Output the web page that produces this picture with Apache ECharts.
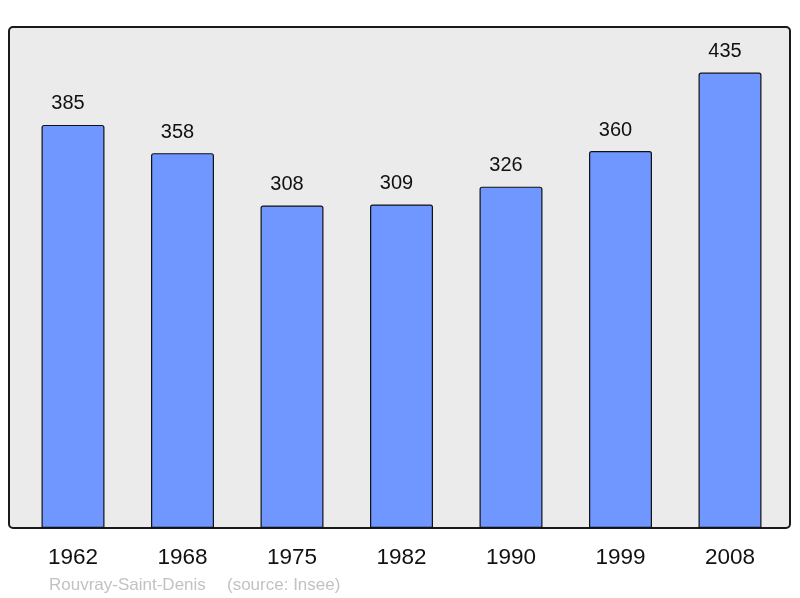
<!DOCTYPE html>
<html><head><meta charset="utf-8">
<script src="https://cdn.jsdelivr.net/npm/echarts@6/dist/echarts.min.js"></script>
<style>html,body{margin:0;padding:0;background:#fff}#c{width:800px;height:598px}</style>
</head><body><div id="c"></div>
<script>
const years = ['1962','1968','1975','1982','1990','1999','2008'];
const population = [385, 358, 308, 309, 326, 360, 435];
const footerName = 'Rouvray-Saint-Denis';
const footerSource = '(source: Insee)';

const chart = echarts.init(document.getElementById('c'), null, {renderer:'canvas'});
const F = '"Liberation Sans", Arial, sans-serif';
chart.setOption({
  animation: false,
  backgroundColor: '#ffffff',
  graphic: [
    {type:'rect', z:-10, shape:{x:9, y:27, width:781, height:501, r:4},
     style:{fill:'#ebebeb', stroke:'#1a1a1a', lineWidth:2}},
    {type:'text', left:49, top:577, z:10,
     style:{text: footerName, font:'17px ' + F, fill:'#c2c2c2'}},
    {type:'text', left:227, top:577, z:10,
     style:{text: footerSource, font:'17px ' + F, fill:'#c2c2c2'}}
  ],
  grid: {left:18.25, right:15.25, top:27, bottom:70, containLabel:false},
  xAxis: {
    type:'category', data: years,
    axisLine:{show:false}, axisTick:{show:false}, splitLine:{show:false},
    axisLabel:{fontSize:22.5, color:'#111', fontFamily:F, margin:18}
  },
  yAxis: {type:'value', min:0, max:478.5, show:false, splitLine:{show:false}},
  series: [{
    type:'bar', data: population, barWidth:'57.5%',
    itemStyle:{color:'#6f97ff', borderColor:'#111', borderWidth:1.2, borderRadius:[2,2,0,0]},
    label:{show:true, position:'top', distance:11, offset:[-5,0], fontSize:20, color:'#111', fontFamily:F}
  }]
});
</script></body></html>
